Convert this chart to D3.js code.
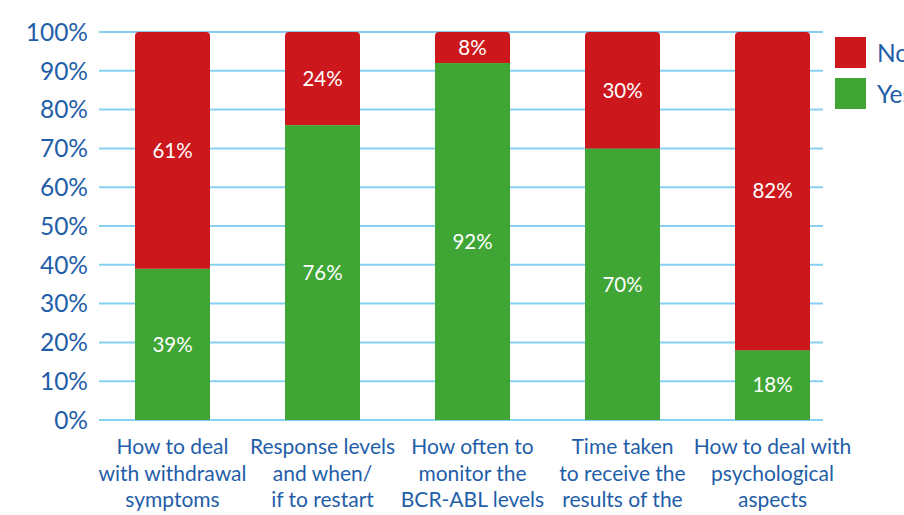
<!DOCTYPE html>
<html lang="en">
<head>
  <meta charset="UTF-8">
  <title>Survey stacked bars</title>
  <script src="https://d3js.org/d3.v7.min.js"></script>
  <style>
    body { margin: 0; background: #fff; font-family: Lato, "Open Sans", sans-serif; }
    svg { display: block; }
  </style>
</head>
<body>
  <div id="chart"></div>

  <script>
    // Data
    const categories = [
      ["How to deal", "with withdrawal", "symptoms"],
      ["Response levels", "and when/", "if to restart"],
      ["How often to", "monitor the", "BCR-ABL levels"],
      ["Time taken", "to receive the", "results of the", "test"],
      ["How to deal with", "psychological", "aspects"]
    ];
    const yesValues = [39, 76, 92, 70, 18];
    const noValues = [61, 24, 8, 30, 82];
    const seriesNames = ["No", "Yes"];
    const yTicks = [0, 10, 20, 30, 40, 50, 60, 70, 80, 90, 100];

    const width = 904;
    const height = 515;

    const red = "#cc181d";
    const green = "#3fa535";
    const blue = "#1f5ea8";
    const gridColor = "#86d0f2";

    const svg = d3.select("#chart")
      .append("svg")
      .attr("width", width)
      .attr("height", height);

    const y = d3.scaleLinear().domain([0, 100]).range([420, 32]);
    const x = d3.scaleBand()
      .domain(d3.range(categories.length))
      .range([135, 810])
      .paddingInner(0.5)
      .paddingOuter(0);

    // gridlines
    svg.append("g")
      .selectAll("line")
      .data(yTicks)
      .join("line")
      .attr("x1", 99)
      .attr("x2", 823)
      .attr("y1", d => y(d))
      .attr("y2", d => y(d))
      .attr("stroke", gridColor)
      .attr("stroke-width", 2);

    // y tick labels
    svg.append("g")
      .selectAll("text")
      .data(yTicks)
      .join("text")
      .attr("x", 88)
      .attr("y", d => y(d))
      .attr("dy", "0.36em")
      .attr("text-anchor", "end")
      .attr("fill", blue)
      .attr("font-size", 24.5)
      .text(d => d + "%");

    const rows = categories.map((c, i) => ({ i, yes: yesValues[i], no: noValues[i] }));

    // rounded-top path for the upper segment
    function topRounded(x0, y0, w, h, r) {
      return `M${x0},${y0 + h}V${y0 + r}Q${x0},${y0} ${x0 + r},${y0}` +
        `H${x0 + w - r}Q${x0 + w},${y0} ${x0 + w},${y0 + r}V${y0 + h}Z`;
    }

    const bars = svg.append("g");

    // Yes (bottom)
    bars.selectAll("rect.yes")
      .data(rows)
      .join("rect")
      .attr("class", "yes")
      .attr("x", d => x(d.i))
      .attr("y", d => y(d.yes))
      .attr("width", x.bandwidth())
      .attr("height", d => y(0) - y(d.yes))
      .attr("fill", green);

    // No (top)
    bars.selectAll("path.no")
      .data(rows)
      .join("path")
      .attr("class", "no")
      .attr("d", d => topRounded(x(d.i), y(d.yes + d.no), x.bandwidth(), y(d.yes) - y(d.yes + d.no), 4))
      .attr("fill", red);

    // value labels
    const labels = svg.append("g")
      .attr("fill", "#fff")
      .attr("font-size", 20.5)
      .attr("text-anchor", "middle");

    labels.selectAll("text.yes")
      .data(rows)
      .join("text")
      .attr("class", "yes")
      .attr("x", d => x(d.i) + x.bandwidth() / 2)
      .attr("y", d => (y(0) + y(d.yes)) / 2)
      .attr("dy", "0.36em")
      .text(d => d.yes + "%");

    labels.selectAll("text.no")
      .data(rows)
      .join("text")
      .attr("class", "no")
      .attr("x", d => x(d.i) + x.bandwidth() / 2)
      .attr("y", d => (y(d.yes) + y(d.yes + d.no)) / 2)
      .attr("dy", "0.36em")
      .text(d => d.no + "%");

    // category labels
    const catG = svg.append("g")
      .attr("fill", blue)
      .attr("font-size", 21)
      .attr("text-anchor", "middle");

    categories.forEach((lines, i) => {
      const t = catG.append("text")
        .attr("x", x(i) + x.bandwidth() / 2)
        .attr("y", 454);
      lines.forEach((line, j) => {
        t.append("tspan")
          .attr("x", x(i) + x.bandwidth() / 2)
          .attr("dy", j === 0 ? 0 : 26.5)
          .text(line);
      });
    });

    // legend
    const legend = svg.append("g").attr("transform", "translate(835,37)");
    const legendColors = [red, green];
    seriesNames.forEach((name, i) => {
      const g = legend.append("g").attr("transform", `translate(0,${i * 41})`);
      g.append("rect")
        .attr("width", 31)
        .attr("height", 31)
        .attr("fill", legendColors[i]);
      g.append("text")
        .attr("x", 42)
        .attr("y", 16)
        .attr("dy", "0.36em")
        .attr("fill", blue)
        .attr("font-size", 24.5)
        .text(name);
    });
  </script>
</body>
</html>
